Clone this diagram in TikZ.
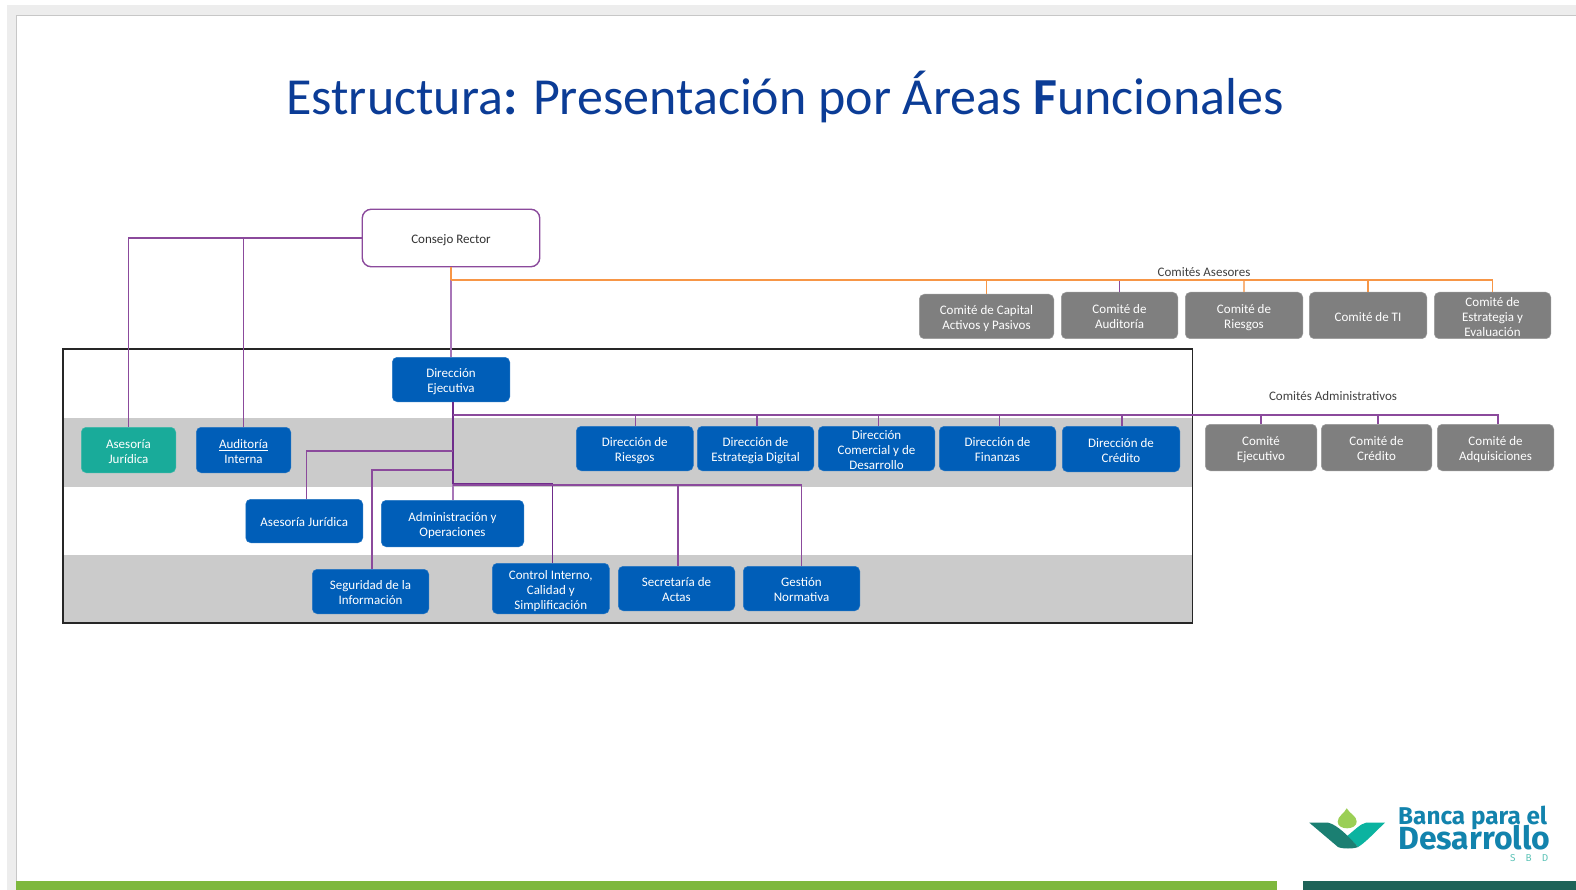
\documentclass[tikz,border=0pt]{standalone}
\usepackage{fontspec}
\setmainfont{Carlito}
\newfontfamily\logofont{Fira Sans}
\definecolor{blueb}{HTML}{005EB8}
\definecolor{greyb}{HTML}{7F7F7F}
\definecolor{tealb}{HTML}{19AB9A}
\definecolor{purp}{HTML}{8B4A9C}
\definecolor{darkp}{HTML}{6F2C8B}
\definecolor{lightp}{HTML}{A876B8}
\definecolor{oran}{HTML}{F79646}
\definecolor{bandg}{HTML}{CBCBCB}
\definecolor{titleb}{HTML}{0B3C96}
\definecolor{logob}{HTML}{1283AD}
\definecolor{bargreen}{RGB}{126,184,62}
\definecolor{barteal}{RGB}{30,99,88}
\definecolor{logodrop}{RGB}{155,207,85}
\definecolor{logoright}{RGB}{11,179,160}
\definecolor{logoleft}{RGB}{27,127,114}
\tikzset{
  x=1pt,y=-1pt,
  boxbase/.style={rectangle,rounded corners=5pt,inner sep=0pt,text=white,
    font=\fontsize{13}{14.8}\selectfont},
  bluebox/.style={boxbase,fill=blueb,draw=blueb!85!white,line width=.5pt},
  greybox/.style={boxbase,fill=greyb,draw=greyb!80!white,line width=.5pt},
  tealbox/.style={boxbase,fill=tealb,draw=tealb!85!white,line width=.5pt},
  rectorbox/.style={boxbase,fill=white,draw=purp,line width=1.4pt,text=black!80,rounded corners=9pt},
  caption/.style={inner sep=0pt,text=black!75,font=\fontsize{13}{14.8}\selectfont},
  pline/.style={draw=purp,line width=1.4pt},
  oline/.style={draw=oran,line width=1.4pt},
}
\newcommand\boxnode[7]{%
  \pgfmathsetmacro\bxw{#5-#3-.5}\pgfmathsetmacro\bxh{#6-#4-.5}%
  \node[#2,minimum width=\bxw pt,minimum height=\bxh pt] (#1) at ({(#3+#5)/2},{(#4+#6)/2})
    {\raisebox{-5.8pt}[0pt][0pt]{\begin{tabular}{@{}c@{}}#7\end{tabular}}};}
\begin{document}
\begin{tikzpicture}
\useasboundingbox (0,0) rectangle (1576,890);
\fill[white] (0,0) rectangle (1576,890);
% window
\fill[black!7] (7,5) rectangle (1576,890);
\fill[white] (16,15) rectangle (1576,890);
\draw[black!22,line width=.9pt] (16,890) -- (16,15) -- (1576,15);
% bottom bars
\fill[bargreen] (16,881) rectangle (1277,890);
\fill[barteal] (1303,881) rectangle (1576,890);
% title
\node[inner sep=0pt,text=titleb,font=\fontsize{52}{58}\selectfont] (title) at (785,97)
  {Estructura\textbf{:} Presentación por Áreas \textbf{F}uncionales};
% bands and frame
\fill[bandg] (63,418) rectangle (1192,487);
\fill[bandg] (63,555) rectangle (1192,623);
\draw[black!85,line width=1.4pt] (63,349) rectangle (1192.5,623);
% boxes
\boxnode{rector}{rectorbox}{362}{209}{540}{267}{Consejo Rector}
\boxnode{ejec}{bluebox}{392}{357}{510}{402}{Dirección\\Ejecutiva}
\boxnode{asesT}{tealbox}{81}{427}{176}{473}{Asesoría\\Jurídica}
\boxnode{audit}{bluebox}{196}{427}{291}{473}{\underline{Auditoría}\\Interna}
\boxnode{asesJ}{bluebox}{245.5}{499}{363}{543}{Asesoría Jurídica}
\boxnode{admin}{bluebox}{381}{500}{524}{547}{Administración y\\Operaciones}
\boxnode{segur}{bluebox}{312}{569}{429}{614}{Seguridad de la\\Información}
\boxnode{contr}{bluebox}{492}{563}{609.5}{614}{Control Interno,\\Calidad y\\Simplificación}
\boxnode{secre}{bluebox}{618}{566}{735}{611}{Secretaría de\\Actas}
\boxnode{gesti}{bluebox}{743}{566}{860}{611}{Gestión\\Normativa}
\boxnode{dRies}{bluebox}{576}{426}{693.5}{471}{Dirección de\\Riesgos}
\boxnode{dEstr}{bluebox}{697}{426}{814}{471}{Dirección de\\Estrategia Digital}
\boxnode{dCome}{bluebox}{818}{426}{935}{471}{Dirección\\Comercial y de\\Desarrollo}
\boxnode{dFina}{bluebox}{939}{426}{1056}{471}{Dirección de\\Finanzas}
\boxnode{dCred}{bluebox}{1062}{426}{1180}{472}{Dirección de\\Crédito}
\boxnode{cCapi}{greybox}{919}{294}{1054}{339}{Comité de Capital\\Activos y Pasivos}
\boxnode{cAudi}{greybox}{1061}{292}{1178}{339}{Comité de\\Auditoría}
\boxnode{cRies}{greybox}{1185}{292}{1303}{339}{Comité de\\Riesgos}
\boxnode{cTI}{greybox}{1309}{292}{1427}{339}{Comité de TI}
\boxnode{cEstr}{greybox}{1434}{292}{1551}{339}{Comité de\\Estrategia y\\Evaluación}
\boxnode{cEjec}{greybox}{1205}{424}{1317}{471}{Comité\\Ejecutivo}
\boxnode{cCred}{greybox}{1321}{424}{1432}{471}{Comité de\\Crédito}
\boxnode{cAdqu}{greybox}{1437}{424}{1554}{471}{Comité de\\Adquisiciones}
\node[caption] (capA) at (1204,272) {Comités Asesores};
\node[caption] (capB) at (1333,396) {Comités Administrativos};
% bus points
\coordinate (orgO) at (451,280);
\coordinate (busT) at (453,415);
\coordinate (busJ) at (453,451);
\coordinate (busS) at (453,470);
\coordinate (busC) at (453,484);
\coordinate (ejecS) at (453,402);
% Consejo connectors
\draw[pline] (rector.west) -| (asesT.north);
\draw[pline] (rector.west) -| (audit.north);
\draw[draw=lightp,line width=1.4pt] (orgO) -- (ejec.north);
\draw[oline] (rector.south) -- (orgO);
\draw[oline] (orgO) -| (cCapi.north);
\draw[pline] (cAudi.north) -- (cAudi.north |- orgO);
\draw[oline,draw=oran!70!white] (orgO) -| (cRies.north);
\draw[oline] (orgO) -| (cTI.north);
\draw[oline] (orgO) -| (cEstr.north);
% Dirección Ejecutiva connectors
\draw[draw=darkp,line width=1.5pt] (ejecS) -- (busC);
\draw[draw=lightp,line width=1.3pt] (busC) -- (admin.north -| busC);
\draw[pline] (busT) -| ([xshift=.5pt]dRies.north);
\draw[pline] (busT) -| ([xshift=1.5pt]dEstr.north);
\draw[pline] (busT) -| ([xshift=2pt]dCome.north);
\draw[pline] (busT) -| ([xshift=2pt]dFina.north);
\draw[pline] (busT) -| ([xshift=1pt]dCred.north);
\draw[pline] (busT) -| (cEjec.north);
\draw[pline] (busT) -| ([xshift=1.5pt]cCred.north);
\draw[pline] (busT) -| ([xshift=2.5pt]cAdqu.north);
\draw[pline] (busJ) -| ([xshift=2pt]asesJ.north);
\draw[pline] (busS) -| ([xshift=1.5pt]segur.north);
\draw[draw=darkp,line width=1.5pt] (busC) -| ([xshift=1.5pt]contr.north);
\draw[pline] (busC) ++(0,1) -| ([xshift=1.5pt]secre.north);
\draw[pline] (busC) ++(0,1) -| (gesti.north);
% logo
\fill[logodrop] (1346.7,808.3)
  .. controls (1344,814) and (1337.7,816) .. (1337.7,821.7)
  .. controls (1337.7,826) and (1342,828.3) .. (1347,828.3)
  .. controls (1352,828.3) and (1356.7,826) .. (1356.7,821.7)
  .. controls (1356.7,816) and (1350,814) .. cycle;
\fill[logoright] (1385,822.7) -- (1366,822.7)
  .. controls (1360,824) and (1355,830) .. (1347,836) -- (1358,847)
  .. controls (1365,843) and (1375,832) .. cycle;
\fill[logoleft] (1309.3,822.7) -- (1328.3,822.7)
  .. controls (1338,825) and (1350,838) .. (1358,847)
  .. controls (1354,849) and (1342,849) .. (1338,847) -- cycle;
\node[anchor=base west,inner sep=0pt,text=logob,font=\logofont\bfseries\fontsize{24.3}{28}\selectfont] (lg1) at (1398,824) {Banca para el};
\node[anchor=base west,inner sep=0pt,text=logob,font=\logofont\bfseries\fontsize{32}{34}\selectfont] (lg2) at (1398,849) {Desarrollo};
\node[anchor=base west,inner sep=0pt,text=tealb!70!white,font=\logofont\fontsize{10}{12}\selectfont] (lg3) at (1510,861) {S\hspace{10pt}B\hspace{10pt}D};
\end{tikzpicture}
\end{document}
